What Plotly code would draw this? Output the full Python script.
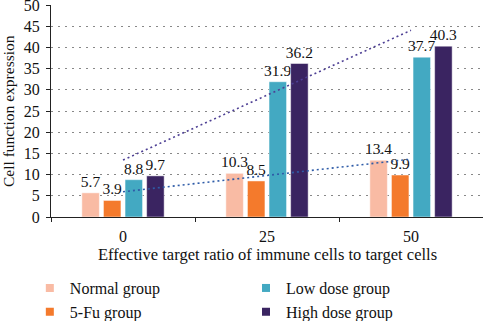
import numpy as np
import plotly.graph_objects as go

categories = ["0", "25", "50"]
series_names = ["Normal group", "5-Fu group", "Low dose group", "High dose group"]
normal = [5.7, 10.3, 13.4]
fu5 = [3.9, 8.5, 9.9]
low = [8.8, 31.9, 37.7]
high = [9.7, 36.2, 40.3]
colors = ["#F9BBA4", "#F47A2C", "#43A9C2", "#3A2461"]
y_ticks = [0, 5, 10, 15, 20, 25, 30, 35, 40, 45, 50]

FONT = "Liberation Serif"
fig = go.Figure()
for name, vals, c in zip(series_names, [normal, fu5, low, high], colors):
    fig.add_trace(go.Bar(
        x=categories, y=vals, name=name,
        marker=dict(color=c, line=dict(color="rgba(255,255,255,0.6)", width=0.8)),
        text=[f"{v:.1f}" for v in vals], textposition="outside", cliponaxis=False,
        constraintext="none",
        textfont=dict(family=FONT, size=15.5, color="#111"), showlegend=False,
    ))

# linear trendlines (Excel-style) for Normal and High dose groups
xi = np.arange(1, 4)
for vals, c in [(normal, "#2F5CA8"), (high, "#4D3F94")]:
    k, b = np.polyfit(xi, vals, 1)
    fig.add_trace(go.Scatter(x=categories, y=k * xi + b, mode="lines",
                             line=dict(color=c, width=1.6, dash="2px,3px"), showlegend=False,
                             hoverinfo="skip"))

# legend entries
for i, (name, c) in enumerate(zip(series_names, colors)):
    fig.add_trace(go.Scatter(x=[None], y=[None], mode="markers", name=name,
                             marker=dict(symbol="square", size=8, color=c),
                             legend="legend" if i < 2 else "legend2"))

fig.update_layout(
    width=483, height=321,
    margin=dict(l=51, r=0, t=5, b=104, autoexpand=False),
    plot_bgcolor="white", paper_bgcolor="white",
    barmode="group", bargap=0.4, bargroupgap=0.19,
    font=dict(family=FONT, size=16, color="#111"),
    legend=dict(x=-0.049, y=-0.255, yanchor="top", xanchor="left",
                orientation="v", font=dict(family=FONT, size=16), tracegroupgap=0,
                itemwidth=30, bgcolor="rgba(0,0,0,0)"),
    legend2=dict(x=0.4514, y=-0.255, yanchor="top", xanchor="left",
                 orientation="v", font=dict(family=FONT, size=16), tracegroupgap=0,
                 itemwidth=30, bgcolor="rgba(0,0,0,0)"),
    annotations=[
        dict(text="Effective target ratio of immune cells to target cells", x=0.5, xref="paper",
             y=-0.178, yref="paper", xanchor="center", yanchor="middle", showarrow=False,
             font=dict(family=FONT, size=16.5, color="#111")),
        dict(text="Cell function expression", x=-0.0995, xref="paper", y=0.5, yref="paper",
             xanchor="center", yanchor="middle", textangle=-90, showarrow=False,
             font=dict(family=FONT, size=15.5, color="#111")),
    ],
)
fig.update_xaxes(
    showline=True, linecolor="#222", linewidth=1, ticks="outside", tickson="boundaries",
    ticklen=4, tickcolor="#222", showgrid=False, automargin=False, ticklabelstandoff=5,
    tickfont=dict(family=FONT, size=16),
)
fig.update_yaxes(
    range=[0, 50], tickvals=y_ticks, showline=True, linecolor="#222", linewidth=1,
    ticks="outside", ticklen=4, tickcolor="#222", automargin=False, ticklabelstandoff=3,
    ticklabeloverflow="allow",
    showgrid=True, gridcolor="#888", griddash="1.5px,5.5px", gridwidth=1, zeroline=False,
    tickfont=dict(family=FONT, size=16),
)
fig.write_html("out.html", config={"displayModeBar": False},
               post_script="document.body.style.margin='0';document.body.style.overflow='hidden';")
